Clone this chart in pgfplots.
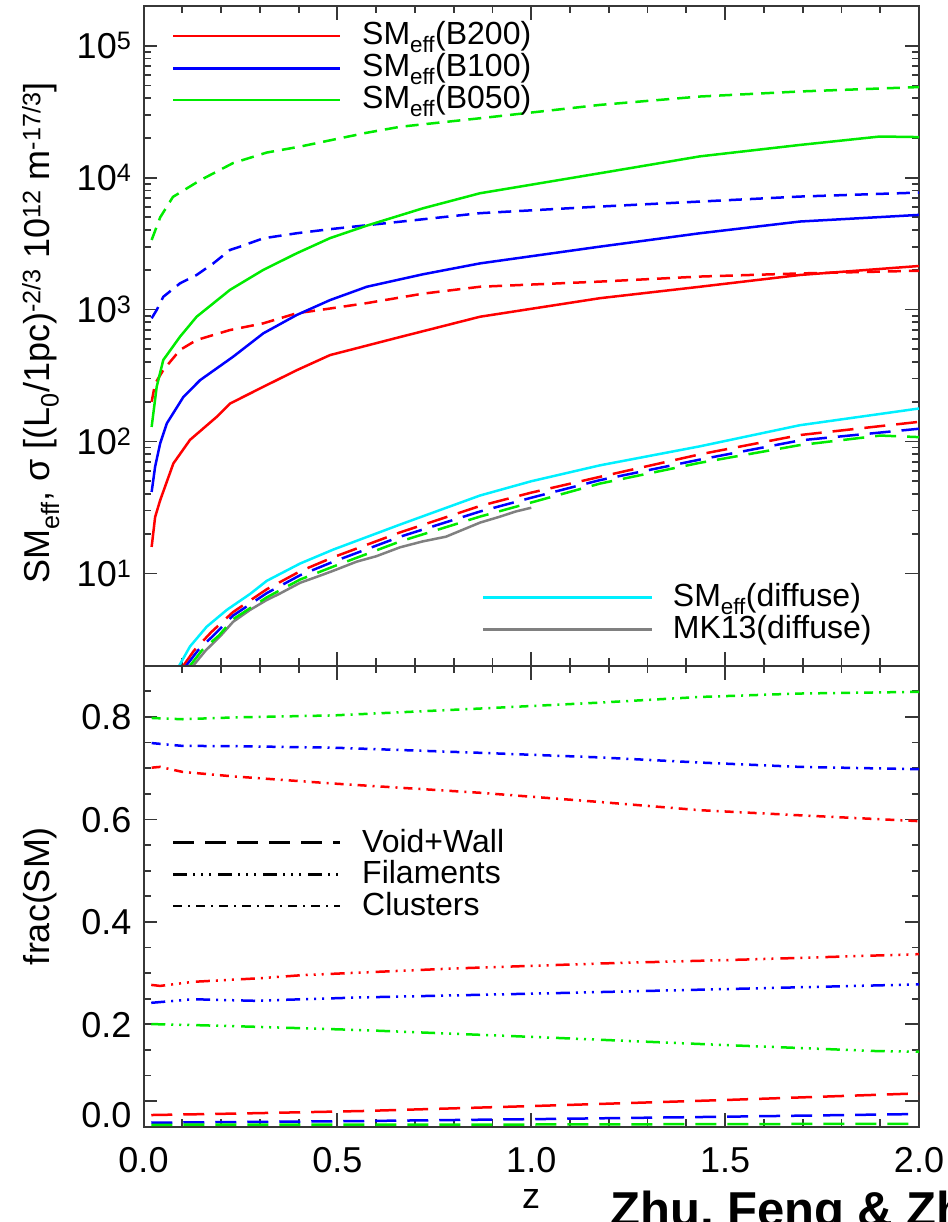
\documentclass[border=0pt]{standalone}
\usepackage{fontspec}
\setmainfont{Liberation Sans}
\usepackage{pgfplots}
\pgfplotsset{compat=1.18}
\definecolor{cR}{RGB}{255,0,0}
\definecolor{cB}{RGB}{0,0,255}
\definecolor{cG}{RGB}{0,235,0}
\definecolor{cC}{RGB}{0,240,255}
\definecolor{cK}{RGB}{128,128,128}
\definecolor{axc}{RGB}{55,55,55}
\newcommand{\tickfont}{\fontsize{36}{40}\selectfont}
\newcommand{\legfont}{\fontsize{32}{36}\selectfont}
\newcommand{\labfont}{\fontsize{36}{40}\selectfont}
\tikzset{
  dsh/.style={dash pattern=on 13pt off 8pt},
  ldsh/.style={dash pattern=on 21pt off 11pt},
  fil/.style={dash pattern=on 14pt off 6pt on 2pt off 6pt on 2pt off 6pt on 2pt off 7pt},
  clu/.style={dash pattern=on 9pt off 6pt on 2pt off 6pt},
}
\pgfplotsset{
  myax/.style={
    scale only axis, width=775.5pt,
    xmin=0, xmax=2,
    xtick={0,0.5,1,1.5,2}, minor x tick num=4,
    axis line style={line width=2pt, color=axc},
    every tick/.style={line width=1.8pt, color=axc},
    major tick length=14pt, minor tick length=7.5pt,
    tick align=inside,
    ticklabel style={font=\tickfont, inner sep=0pt},
    yticklabel style={anchor=base east, xshift=-12pt, yshift=-13pt},
    xticklabel style={anchor=base, yshift=-46pt},
    every axis plot/.append style={line width=2.5pt},
  }
}
\begin{document}
\begin{tikzpicture}
% ---------------- top panel ----------------
\begin{axis}[myax, at={(143.5pt,-665.7pt)}, anchor=south west, height=659.7pt,
  ymode=log, ymin=2, ymax=2e5,
  ytick={10,100,1000,10000,100000},
  yticklabels={10\textsuperscript{1},10\textsuperscript{2},10\textsuperscript{3},10\textsuperscript{4},10\textsuperscript{5}},
  xticklabels={}]
% B200 solid
\addplot[cR] coordinates {(0.021,15.9)(0.030,26.8)(0.043,35.9)(0.077,68.2)(0.120,103)(0.189,154)(0.223,194)(0.309,260)(0.395,347)(0.481,452)(0.662,620)(0.868,883)(1.177,1220)(1.435,1490)(1.693,1830)(2.0,2140)};
% B200 dashed
\addplot[cR,dsh] coordinates {(0.021,200)(0.030,275)(0.051,348)(0.094,494)(0.137,588)(0.223,700)(0.309,787)(0.395,938)(0.455,993)(0.576,1120)(0.72,1320)(0.868,1490)(1.177,1630)(1.435,1780)(1.693,1880)(2.0,1970)};
% B100 solid
\addplot[cB] coordinates {(0.021,41.5)(0.030,64.6)(0.043,96.8)(0.060,137)(0.103,218)(0.146,292)(0.231,439)(0.309,661)(0.395,910)(0.481,1180)(0.576,1490)(0.72,1850)(0.868,2240)(1.177,3000)(1.435,3790)(1.693,4650)(2.0,5220)};
% B100 dashed
\addplot[cB,dsh] coordinates {(0.021,859)(0.034,993)(0.051,1250)(0.094,1580)(0.137,1830)(0.180,2240)(0.223,2830)(0.249,3000)(0.309,3470)(0.395,3790)(0.481,4070)(0.868,5380)(1.177,6040)(1.435,6590)(1.693,7190)(2.0,7710)};
% B050 solid
\addplot[cG] coordinates {(0.021,129)(0.034,260)(0.051,415)(0.094,622)(0.137,883)(0.223,1410)(0.309,2000)(0.395,2670)(0.481,3480)(0.576,4330)(0.72,5850)(0.868,7620)(1.177,10800)(1.435,14500)(1.693,17700)(1.899,20500)(2.0,20300)};
% B050 dashed
\addplot[cG,dsh] coordinates {(0.021,3370)(0.043,5000)(0.076,7150)(0.146,9550)(0.231,12900)(0.318,15500)(0.404,17200)(0.489,19400)(0.576,21900)(0.662,24300)(0.868,28200)(1.177,35600)(1.435,41200)(1.693,45000)(2.0,48600)};
% diffuse
\addplot[cC] coordinates {(0.092,2.0)(0.12,2.8)(0.163,3.95)(0.215,5.3)(0.275,7.0)(0.318,8.8)(0.404,11.9)(0.49,15.2)(0.662,23.5)(0.868,39)(1.0,50)(1.177,66)(1.435,92)(1.693,133)(2.0,178)};
\addplot[cK] coordinates {(0.128,2.0)(0.16,2.6)(0.2,3.4)(0.231,4.3)(0.275,5.3)(0.318,6.3)(0.35,7.0)(0.404,8.5)(0.45,9.5)(0.49,10.5)(0.55,12.3)(0.6,13.5)(0.662,15.8)(0.72,17.5)(0.78,19.0)(0.868,24.3)(0.92,27)(0.96,29.5)(1.0,31.5)};
\addplot[cR,ldsh] coordinates {(0.103,2.0)(0.13,2.6)(0.175,3.6)(0.231,5.1)(0.318,7.6)(0.404,10.4)(0.49,13.3)(0.662,20.5)(0.868,32.5)(1.0,41)(1.177,54)(1.435,80)(1.693,112)(2.0,141)};
\addplot[cB,ldsh] coordinates {(0.11,2.0)(0.14,2.6)(0.185,3.5)(0.231,4.8)(0.318,7.1)(0.404,9.7)(0.49,12.3)(0.662,19)(0.868,29.5)(1.0,37.5)(1.177,51)(1.435,73)(1.693,102)(2.0,125)};
\addplot[cG,ldsh] coordinates {(0.12,2.0)(0.15,2.6)(0.195,3.4)(0.231,4.5)(0.318,6.6)(0.404,9.0)(0.49,11.3)(0.662,17.5)(0.868,27)(1.0,34.5)(1.177,48)(1.435,69)(1.693,94)(1.9,111)(2.0,108)};
\end{axis}
% ---------------- bottom panel ----------------
\begin{axis}[myax, at={(143.5pt,-1126.8pt)}, anchor=south west, height=461.1pt,
  ymin=0, ymax=0.9,
  ytick={0.05,0.2,0.4,0.6,0.8}, yticklabels={\raisebox{-13pt}{0.0},0.2,0.4,0.6,0.8},
  minor ytick={0.1,0.15,0.25,0.3,0.35,0.45,0.5,0.55,0.65,0.7,0.75,0.85},
  xticklabels={0.0,0.5,1.0,1.5,2.0}]
% clusters
\addplot[cG,clu] coordinates {(0.021,0.798)(0.1,0.7955)(0.231,0.799)(0.49,0.803)(0.868,0.8164)(1.177,0.828)(1.435,0.839)(1.693,0.8457)(2.0,0.849)};
\addplot[cB,clu] coordinates {(0.021,0.749)(0.1,0.7435)(0.231,0.743)(0.49,0.740)(0.868,0.730)(1.177,0.721)(1.435,0.711)(1.693,0.7025)(2.0,0.698)};
\addplot[cR,clu] coordinates {(0.021,0.701)(0.043,0.7025)(0.1,0.6928)(0.231,0.684)(0.49,0.670)(0.868,0.652)(1.177,0.634)(1.435,0.618)(1.693,0.608)(2.0,0.5966)};
% filaments
\addplot[cR,fil] coordinates {(0.02,0.277)(0.043,0.275)(0.128,0.283)(0.30,0.290)(0.409,0.296)(0.798,0.309)(1.188,0.319)(1.577,0.327)(2.0,0.337)};
\addplot[cB,fil] coordinates {(0.02,0.242)(0.128,0.249)(0.285,0.246)(0.563,0.2526)(1.032,0.2604)(1.499,0.2688)(2.0,0.278)};
\addplot[cG,fil] coordinates {(0.02,0.2005)(0.128,0.1986)(0.285,0.1953)(0.563,0.1888)(1.032,0.1746)(1.499,0.1596)(1.888,0.1479)(2.0,0.1465)};
% void+wall
\addplot[cR,ldsh] coordinates {(0.02,0.023)(0.25,0.026)(0.563,0.0308)(1.032,0.0412)(1.499,0.0523)(2.0,0.0653)};
\addplot[cB,ldsh] coordinates {(0.02,0.008)(0.563,0.0113)(1.032,0.0152)(1.499,0.0197)(2.0,0.025)};
\addplot[cG,ldsh] coordinates {(0.02,0.004)(1.0,0.0045)(2.0,0.006)};
\end{axis}
% ---------------- legends ----------------
\begin{scope}[line width=2.5pt]
\draw[cR] (173pt,-36pt) -- (340pt,-36pt);
\draw[cB] (173pt,-68.3pt) -- (340pt,-68.3pt);
\draw[cG] (173pt,-100pt) -- (340pt,-100pt);
\draw[cC] (483pt,-597.3pt) -- (651.7pt,-597.3pt);
\draw[cK] (483pt,-629.3pt) -- (651.7pt,-629.3pt);
\draw[black,ldsh] (173pt,-842.7pt) -- (340pt,-842.7pt);
\draw[black,fil] (173pt,-874.3pt) -- (340pt,-874.3pt);
\draw[black,clu] (173pt,-906pt) -- (340pt,-906pt);
\end{scope}
\begin{scope}[every node/.style={font=\legfont, anchor=base west, inner sep=0pt}]
\node at (362pt,-45pt) {SM\textsubscript{eff}(B200)};
\node at (362pt,-77pt) {SM\textsubscript{eff}(B100)};
\node at (362pt,-109pt) {SM\textsubscript{eff}(B050)};
\node at (672.7pt,-606.7pt) {SM\textsubscript{eff}(diffuse)};
\node at (672.7pt,-638.3pt) {MK13(diffuse)};
\node at (362pt,-852pt) {Void+Wall};
\node at (362pt,-883.5pt) {Filaments};
\node at (362pt,-915pt) {Clusters};
\end{scope}
% axis labels
\node[rotate=90, anchor=base, inner sep=0pt, font=\labfont] at (49.5pt,-333pt)
  {SM\textsubscript{eff}, σ [(L\textsubscript{0}/1pc)\textsuperscript{-2/3} 10\textsuperscript{12} m\textsuperscript{-17/3}]};
\node[rotate=90, anchor=base, inner sep=0pt, font=\labfont] at (49.5pt,-896pt) {frac(SM)};
\node[anchor=base, inner sep=0pt, font=\labfont] at (531pt,-1208pt) {z};
\node[anchor=base west, inner sep=0pt, font=\fontsize{49}{52}\selectfont\bfseries] at (610pt,-1226pt) {Zhu, Feng \& Zhang};
\pgfresetboundingbox
\useasboundingbox (0pt,0pt) rectangle (947pt,-1222pt);
\end{tikzpicture}
\end{document}
